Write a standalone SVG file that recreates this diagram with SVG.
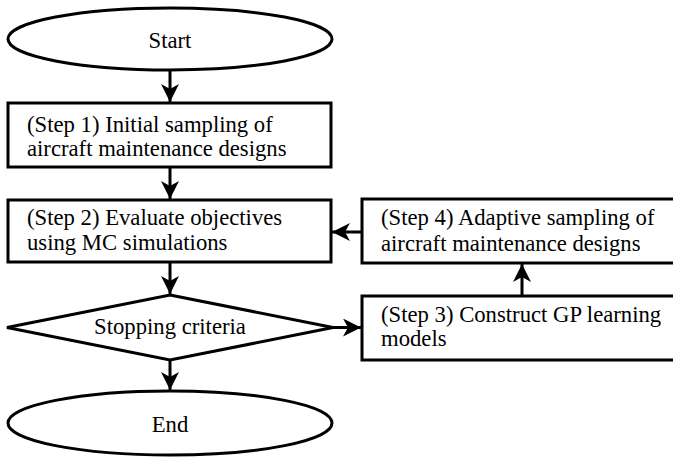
<svg xmlns="http://www.w3.org/2000/svg" width="673" height="458" viewBox="0 0 673 458">
<style>
.s{fill:#fff;stroke:#000;stroke-width:3}
.e{stroke:#000;stroke-width:3;fill:none}
.t{font-family:"Liberation Serif","Times New Roman",serif;font-size:22.7px;fill:#000}
.c{text-anchor:middle}
</style>
<defs>
<marker id="a" markerUnits="userSpaceOnUse" markerWidth="18" markerHeight="18" refX="18" refY="9" orient="auto" viewBox="0 0 18 18">
<path d="M0,0 L18,9 L0,18 L5,9 z" fill="#000"/>
</marker>
</defs>
<rect width="673" height="458" fill="#fff"/>
<g id="start"><ellipse class="s" cx="170" cy="39" rx="162" ry="31"/><text class="t c" x="170" y="48">Start</text></g>
<g id="step1"><rect class="s" x="8" y="103" width="323" height="64"/><text class="t" x="27" y="132">(Step 1) Initial sampling of</text><text class="t" x="27" y="156">aircraft maintenance designs</text></g>
<g id="step2"><rect class="s" x="8" y="200" width="323" height="62"/><text class="t" x="27" y="225">(Step 2) Evaluate objectives</text><text class="t" x="27" y="250">using MC simulations</text></g>
<g id="stop"><polygon class="s" points="170,295 333,327.5 170,360 7,327.5"/><text class="t c" x="170" y="334">Stopping criteria</text></g>
<g id="end"><ellipse class="s" cx="170" cy="423" rx="162" ry="32"/><text class="t c" x="170" y="432">End</text></g>
<g id="step4"><rect class="s" x="362" y="199" width="330" height="64"/><text class="t" x="381" y="225">(Step 4) Adaptive sampling of</text><text class="t" x="381" y="251">aircraft maintenance designs</text></g>
<g id="step3"><rect class="s" x="362" y="296" width="330" height="64"/><text class="t" x="381" y="322">(Step 3) Construct GP learning</text><text class="t" x="381" y="346">models</text></g>
<g id="connectors">
<line class="e" x1="170" y1="70" x2="170" y2="102" marker-end="url(#a)"/>
<line class="e" x1="170" y1="168" x2="170" y2="199" marker-end="url(#a)"/>
<line class="e" x1="170" y1="263" x2="170" y2="294" marker-end="url(#a)"/>
<line class="e" x1="170" y1="361" x2="170" y2="390" marker-end="url(#a)"/>
<line class="e" x1="333" y1="327.5" x2="361" y2="327.5" marker-end="url(#a)"/>
<line class="e" x1="522" y1="295" x2="522" y2="264" marker-end="url(#a)"/>
<line class="e" x1="361" y1="232" x2="332" y2="232" marker-end="url(#a)"/>
</g>
</svg>
